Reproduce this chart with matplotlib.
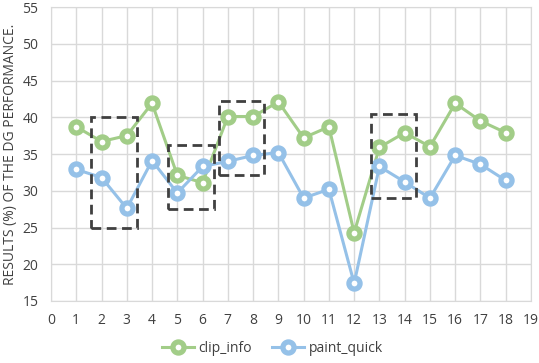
import matplotlib.pyplot as plt
from matplotlib.patches import Rectangle

plt.rcParams['font.family'] = ['Open Sans', 'DejaVu Sans']

x = list(range(1, 19))
clip_info = [38.7, 36.7, 37.5, 41.9, 32.1, 31.1, 40.1, 40.1, 42.1,
             37.2, 38.7, 24.3, 35.9, 37.9, 36.0, 41.9, 39.5, 37.9]
paint_quick = [32.9, 31.8, 27.6, 34.1, 29.7, 33.3, 34.0, 34.8, 35.2,
               29.0, 30.2, 17.4, 33.3, 31.2, 29.0, 34.8, 33.6, 31.4]

# highlighted regions: (x0, x1, y0, y1)
boxes = [(1.6, 3.4, 25.0, 40.0),
         (4.63, 6.45, 27.5, 36.2),
         (6.65, 8.42, 32.1, 42.2),
         (12.65, 14.45, 29.0, 40.5)]

green = '#a2cd88'
blue = '#95c1e8'

fig = plt.figure(figsize=(5.39, 3.63), dpi=100)
ax = fig.add_axes([51 / 539, 1 - 301 / 363, 480 / 539, 294 / 363])

for vals, col, name in [(clip_info, green, 'clip_info'), (paint_quick, blue, 'paint_quick')]:
    ax.plot(x, vals, color=col, lw=2.2, marker='o', ms=8, mfc='white',
            mec=col, mew=3.8, label=name, zorder=3)

for x0, x1, y0, y1 in boxes:
    ax.add_patch(Rectangle((x0, y0), x1 - x0, y1 - y0, fill=False,
                           ls=(0, (3.5, 2)), lw=2, ec='#404040', zorder=4))

ax.set_xlim(0, 19)
ax.set_ylim(15, 55)
ax.set_xticks(range(0, 20))
ax.set_yticks(range(15, 56, 5))
ax.grid(True, color='#d9d9d9', lw=1)
ax.set_axisbelow(True)
for s in ax.spines.values():
    s.set_color('#d9d9d9')
ax.tick_params(length=0, labelsize=10, colors='#404040', pad=9)
ax.set_ylabel('RESULTS (%) OF THE DG PERFORMANCE.', fontsize=10, color='#404040', labelpad=3)

fig.legend(loc='lower center', ncol=2, frameon=False, fontsize=10,
           bbox_to_anchor=(0.505, -0.015), handlelength=2.3, handletextpad=0.3,
           columnspacing=1.5, labelcolor='#404040')

fig.savefig('out.png', dpi=100)
